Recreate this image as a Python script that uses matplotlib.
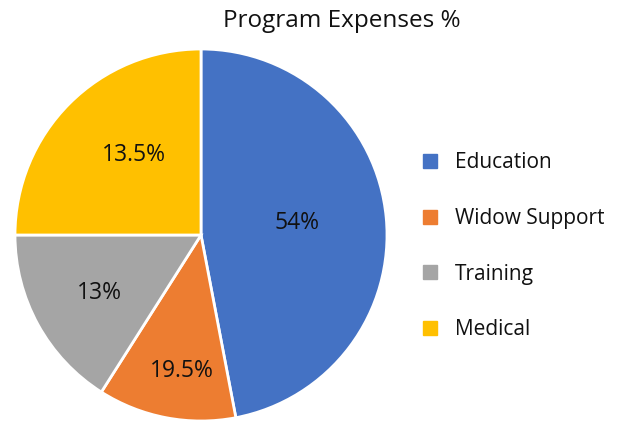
import numpy as np
import matplotlib.pyplot as plt
from matplotlib.lines import Line2D

plt.rcParams['font.family'] = ['Open Sans', 'DejaVu Sans']

categories = ["Education", "Widow Support", "Training", "Medical"]
# slice sizes as drawn in the picture (percent of the circle)
slice_sizes = [47.0, 12.0, 16.0, 25.0]
# labels printed on the slices
slice_labels = ["54%", "19.5%", "13%", "13.5%"]
colors = ["#4472C4", "#ED7D31", "#A5A5A5", "#FFC000"]

W, H = 621, 421
fig = plt.figure(figsize=(W / 100, H / 100), dpi=100)
cx, cy, r = 201, 235, 186
ax = fig.add_axes([(cx - r) / W, (H - cy - r) / H, 2 * r / W, 2 * r / H])

wedges, _ = ax.pie(slice_sizes, colors=colors, startangle=90, counterclock=False,
                   wedgeprops=dict(edgecolor="white", linewidth=2))
ax.set_xlim(-1.0, 1.0)
ax.set_ylim(-1.0, 1.0)
ax.set_aspect("equal")

# radius and small angle nudge for each slice label
label_radius = [0.52, 0.74, 0.63, 0.56]
label_nudge = [2, 3, 1, -5]
for w, txt, lr, dn in zip(wedges, slice_labels, label_radius, label_nudge):
    mid = np.deg2rad((w.theta1 + w.theta2) / 2 + dn)
    ax.text(lr * np.cos(mid), lr * np.sin(mid), txt, ha="center", va="center",
            fontsize=16.5, color="#111111")

fig.text(342 / W, 1 - 21 / H, "Program Expenses %", ha="center", va="center",
         fontsize=17.5, color="#111111")

handles = [Line2D([], [], marker="s", linestyle="none", markersize=10,
                  markerfacecolor=c, markeredgecolor=c) for c in colors]
fig.legend(handles, categories, loc="upper left", bbox_to_anchor=(409 / W, 1 - 142 / H),
           frameon=False, fontsize=15, labelspacing=1.66, handletextpad=0.7,
           borderpad=0, handlelength=1.0, labelcolor="#111111")

fig.savefig("out.png", dpi=100)
